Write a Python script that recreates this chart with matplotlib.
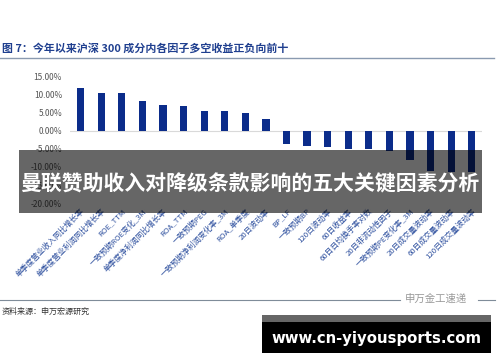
"""
Long-short factor returns, CSI 300 constituents (top ten each side), with banner overlay.
"""
import matplotlib
matplotlib.use("Agg")
import matplotlib.pyplot as plt
from matplotlib.patches import Rectangle
from matplotlib.ticker import FuncFormatter

plt.rcParams["font.family"] = ["Noto Sans CJK SC", "DejaVu Sans"]

FACTORS = ["单季度营业收入同比增长率", "单季度营业利润同比增长率", "ROE_TTM",
           "一致预期ROE变化_3M", "单季度净利润同比增长率", "ROA_TTM", "一致预期PEG",
           "一致预期净利润变化率_3M", "ROA_单季度", "20日波动率", "BP_LF", "一致预期BP",
           "120日波动率", "60日收益率", "60日日均换手率对数", "20日非流动性因子",
           "一致预期PE变化率_3M", "20日成交量波动率", "60日成交量波动率", "120日成交量波动率"]
RETURNS = [11.8, 10.3, 10.2, 8.1, 7.0, 6.7, 5.3, 5.3, 4.8, 3.2,
           -3.6, -4.2, -4.6, -5.0, -5.0, -5.5, -8.2, -11.0, -11.5, -11.5]
YTICKS = [15, 10, 5, 0, -5, -10, -15, -20]

NAVY = "#0b2c8a"
W, H = 500, 362

fig = plt.figure(figsize=(5, 3.62), dpi=100)
ax = fig.add_axes([70.4 / W, 1 - 203.3 / H, 411.6 / W, 127.3 / H])
ax.bar(range(len(RETURNS)), RETURNS, width=0.35, color=NAVY, zorder=2)
ax.axhline(0, color="#d9d9d9", lw=0.8, zorder=1)
ax.set_xlim(-0.5, len(RETURNS) - 0.5)
ax.set_ylim(-20, 15)
ax.set_yticks(YTICKS)
ax.yaxis.set_major_formatter(FuncFormatter(lambda v, p: f"{v:.2f}%"))
ax.set_xticks(range(len(FACTORS)))
ax.set_xticklabels(FACTORS, rotation=45, ha="right", rotation_mode="anchor",
                   fontsize=5.6, color="#2d4f9e")
ax.tick_params(axis="y", labelsize=6, labelcolor="#555555", length=0, pad=6)
ax.tick_params(axis="x", length=0, pad=3)
for s in ax.spines.values():
    s.set_visible(False)

# header / footer
fig.text(2 / W, 1 - 48 / H, "图 7：今年以来沪深 300 成分内各因子多空收益正负向前十",
         fontsize=7.9, fontweight="bold", color="#1f3f8f", va="center")
fig.add_artist(plt.Line2D([0, 494 / W], [1 - 58 / H] * 2, color="#8a9ab0", lw=1))
fig.add_artist(plt.Line2D([0, 400 / W], [1 - 300 / H] * 2, color="#7f8c99", lw=0.8))
fig.add_artist(plt.Line2D([478 / W, 495 / W], [1 - 300 / H] * 2, color="#7f8c99", lw=0.8))
fig.text(405 / W, 1 - 299 / H, "申万金工速递", fontsize=7.5, color="#999999", va="center")
fig.text(2 / W, 1 - 311 / H, "资料来源：申万宏源研究", fontsize=5.8, color="#333333", va="center")

# banner overlay
fig.add_artist(Rectangle((19 / W, 1 - 213 / H), 463 / W, 63 / H, transform=fig.transFigure,
                         facecolor="black", alpha=0.6, lw=0, zorder=5))
fig.text(250 / W, 1 - 184 / H, "曼联赞助收入对降级条款影响的五大关键因素分析", fontsize=15,
         fontweight="bold", color="white", ha="center", va="center", zorder=6)

# url box
fig.add_artist(Rectangle((262 / W, 1 - 353 / H), 229 / W, 38 / H, transform=fig.transFigure,
                         facecolor="black", lw=0, zorder=5))
fig.add_artist(Rectangle((262 / W, 1 - 322 / H), 229 / W, 7 / H, transform=fig.transFigure,
                         facecolor="#666666", lw=0, zorder=5))
fig.text(376 / W, 1 - 338 / H, "www.cn-yiyousports.com", fontsize=10.7, fontweight="bold",
         color="white", ha="center", va="center", family="DejaVu Sans", zorder=6)

fig.savefig("out.png", dpi=100)
